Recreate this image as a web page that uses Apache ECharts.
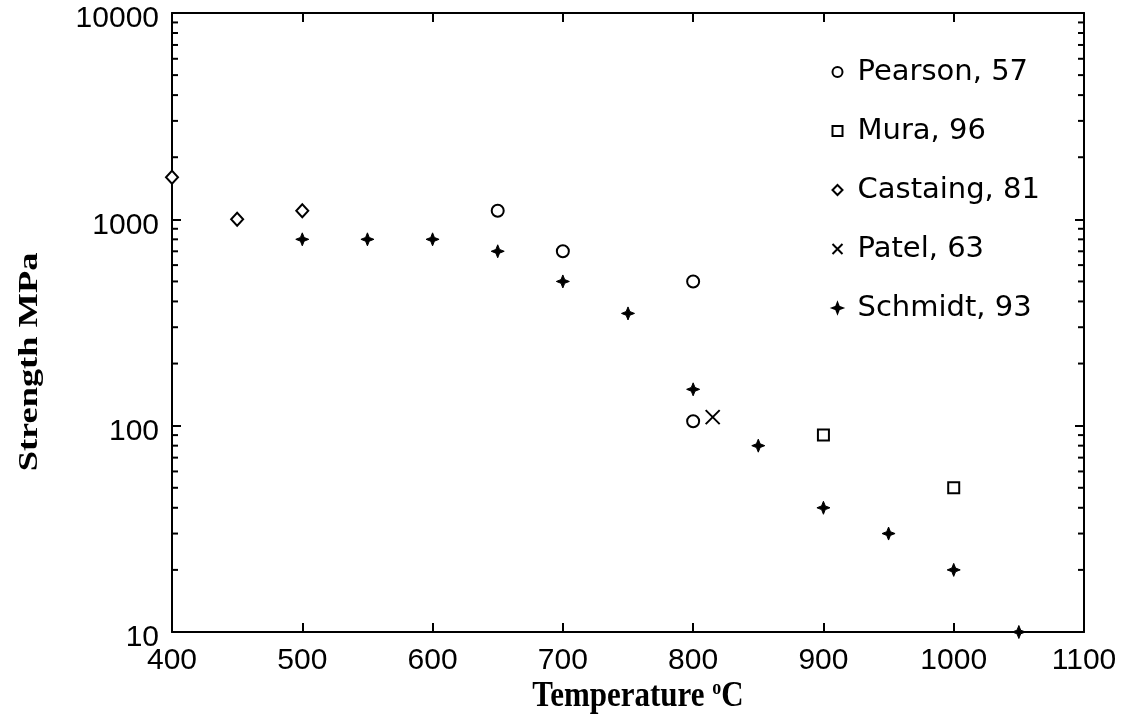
<!DOCTYPE html>
<html>
<head>
<meta charset="utf-8">
<script src="https://cdn.jsdelivr.net/npm/echarts@6/dist/echarts.min.js"></script>
<style>html,body{margin:0;padding:0;background:#fff;}#c{width:1142px;height:721px;}</style>
</head>
<body>
<div id="c"></div>
<script>
// ---- data ----
const pearsonX = [650, 700, 800, 800];
const pearsonY = [1100, 700, 500, 105];
const muraX = [900, 1000];
const muraY = [90, 50];
const castaingX = [400, 450, 500];
const castaingY = [1600, 1000, 1100];
const patelX = [815];
const patelY = [110];
const schmidtX = [500, 550, 600, 650, 700, 750, 800, 850, 900, 950, 1000, 1050];
const schmidtY = [800, 800, 800, 700, 500, 350, 150, 80, 40, 30, 20, 10];
const seriesNames = ['Pearson, 57', 'Mura, 96', 'Castaing, 81', 'Patel, 63', 'Schmidt, 93'];
const xTicks = [400, 500, 600, 700, 800, 900, 1000, 1100];
const yTicks = [10, 100, 1000, 10000];
const minorTickValues = [20, 30, 40, 50, 60, 70, 80, 90,
  200, 300, 400, 500, 600, 700, 800, 900,
  2000, 3000, 4000, 5000, 6000, 7000, 8000, 9000];
const xTitle = 'Temperature {sup|o}C';
const yTitle = 'Strength MPa';

function pairs(xs, ys) { return xs.map((x, i) => [x, ys[i]]); }

const black = '#000';
const labelFont = 'Liberation Sans';
const titleFont = 'Liberation Serif';
const starPath = 'path://M0,-6 L1.7,-1.7 L6,0 L1.7,1.7 L0,6 L-1.7,1.7 L-6,0 L-1.7,-1.7 Z';
const xPath = 'path://M0,0 L10,10 M10,0 L0,10';

const chart = echarts.init(document.getElementById('c'), null, {renderer: 'canvas'});
const option = {
  backgroundColor: '#fff',
  animation: false,
  grid: {left: 172, right: 58, top: 13, bottom: 89},
  legend: {
    orient: 'vertical',
    left: 825,
    top: 52,
    itemWidth: 10,
    itemHeight: 10,
    itemGap: 29,
    data: seriesNames,
    textStyle: {fontFamily: 'DejaVu Sans', fontSize: 29, color: black, padding: [0, 0, 0, 10], lineHeight: 30}
  },
  graphic: [{
    type: 'text', x: 30, y: 362, rotation: Math.PI / 2, scaleX: 1.3, silent: true,
    style: {text: yTitle, fontFamily: titleFont, fontWeight: 'bold', fontSize: 28, fill: black,
      textAlign: 'center', textVerticalAlign: 'middle'}
  }, {
    type: 'text', x: 638, y: 697, scaleY: 1.15, silent: true,
    style: {text: xTitle, fontFamily: titleFont, fontWeight: 'bold', fontSize: 31, fill: black,
      textAlign: 'center', textVerticalAlign: 'middle',
      rich: {sup: {fontFamily: titleFont, fontWeight: 'bold', fontSize: 18, fill: black, padding: [0, 0, 14, 0]}}}
  }],
  xAxis: [{
    type: 'value', min: xTicks[0], max: xTicks[xTicks.length - 1], interval: 100,
    position: 'bottom',
    axisLine: {show: true, lineStyle: {color: black, width: 2}},
    axisTick: {show: true, inside: true, length: 9, lineStyle: {color: black, width: 2}},
    splitLine: {show: false},
    axisLabel: {fontFamily: labelFont, fontSize: 30, color: black, margin: 14, formatter: v => String(v)}
  }, {
    type: 'value', min: xTicks[0], max: xTicks[xTicks.length - 1], interval: 100,
    position: 'top',
    axisLine: {show: true, lineStyle: {color: black, width: 2}},
    axisTick: {show: true, inside: true, length: 9, lineStyle: {color: black, width: 2}},
    splitLine: {show: false},
    axisLabel: {show: false}
  }],
  yAxis: [{
    type: 'log', logBase: 10, min: yTicks[0], max: yTicks[yTicks.length - 1],
    position: 'left',
    axisLine: {show: true, lineStyle: {color: black, width: 2}},
    axisTick: {show: true, inside: true, length: 9, lineStyle: {color: black, width: 2}},
    splitLine: {show: false},
    axisLabel: {fontFamily: labelFont, fontSize: 30, color: black, margin: 13,
      verticalAlign: 'top', lineHeight: 12, formatter: v => String(v)}
  }, {
    type: 'log', logBase: 10, min: yTicks[0], max: yTicks[yTicks.length - 1],
    position: 'right',
    axisLine: {show: true, lineStyle: {color: black, width: 2}},
    axisTick: {show: true, inside: true, length: 9, lineStyle: {color: black, width: 2}},
    splitLine: {show: false},
    axisLabel: {show: false}
  }],
  series: [
    {
      name: 'minorTicks', type: 'custom', xAxisIndex: 0, yAxisIndex: 0, silent: true, clip: false,
      data: minorTickValues.map(v => [xTicks[0], v]),
      renderItem: function (params, api) {
        const v = api.value(1);
        const l = api.coord([xTicks[0], v]);
        const r = api.coord([xTicks[xTicks.length - 1], v]);
        const st = {stroke: black, lineWidth: 2};
        return {type: 'group', children: [
          {type: 'line', shape: {x1: l[0], y1: l[1], x2: l[0] + 6, y2: l[1]}, style: st},
          {type: 'line', shape: {x1: r[0], y1: r[1], x2: r[0] - 6, y2: r[1]}, style: st}
        ]};
      }
    },
    {
      name: seriesNames[0], type: 'scatter', clip: false, symbol: 'emptyCircle', symbolSize: 12,
      itemStyle: {color: black, borderColor: black, borderWidth: 2, opacity: 1},
      data: pairs(pearsonX, pearsonY)
    },
    {
      name: seriesNames[1], type: 'scatter', clip: false, symbol: 'emptyRect', symbolSize: 11,
      itemStyle: {color: black, borderColor: black, borderWidth: 2, opacity: 1},
      data: pairs(muraX, muraY)
    },
    {
      name: seriesNames[2], type: 'scatter', clip: false, symbol: 'emptyDiamond', symbolSize: [12, 13],
      itemStyle: {color: black, borderColor: black, borderWidth: 2, opacity: 1},
      data: pairs(castaingX, castaingY)
    },
    {
      name: seriesNames[3], type: 'scatter', clip: false, symbol: xPath, symbolSize: 14,
      itemStyle: {color: 'none', borderColor: black, borderWidth: 2, opacity: 1},
      data: pairs(patelX, patelY)
    },
    {
      name: seriesNames[4], type: 'scatter', clip: false, symbol: starPath, symbolSize: 13,
      itemStyle: {color: black, borderColor: black, borderWidth: 1, opacity: 1},
      data: pairs(schmidtX, schmidtY)
    }
  ]
};
chart.setOption(option);
</script>
</body>
</html>
